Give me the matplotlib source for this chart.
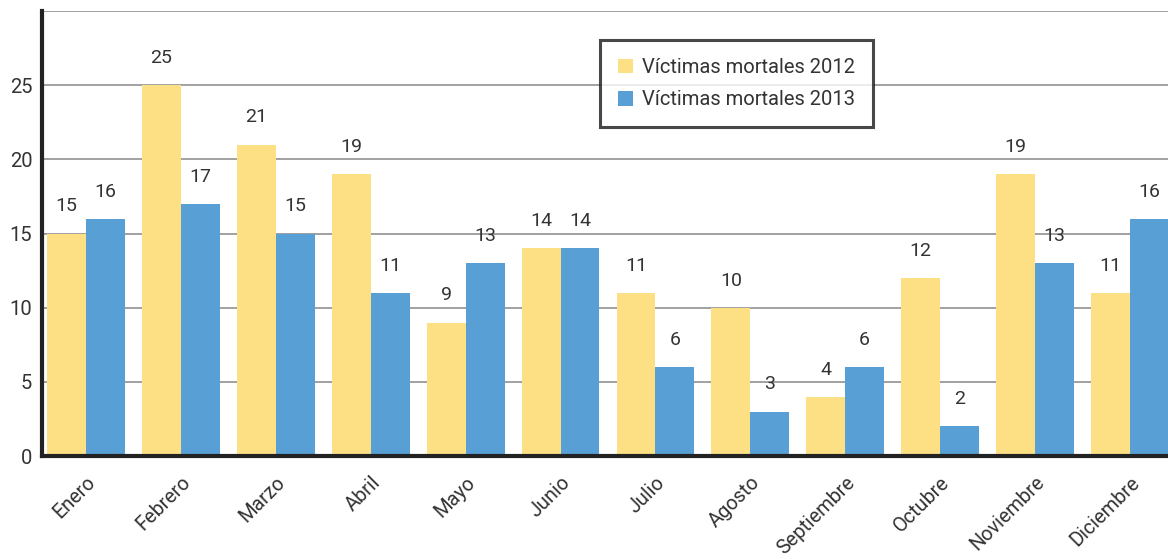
import matplotlib
matplotlib.use("Agg")
import matplotlib.pyplot as plt
import numpy as np

months = ["Enero", "Febrero", "Marzo", "Abril", "Mayo", "Junio", "Julio",
          "Agosto", "Septiembre", "Octubre", "Noviembre", "Diciembre"]
v2012 = [15, 25, 21, 19, 9, 14, 11, 10, 4, 12, 19, 11]
v2013 = [16, 17, 15, 11, 13, 14, 6, 3, 6, 2, 13, 16]
yticks = [0, 5, 10, 15, 20, 25]
series_names = ["Víctimas mortales 2012", "Víctimas mortales 2013"]

plt.rcParams['font.family'] = ['Roboto', 'DejaVu Sans']
txt = '#333333'
c12 = '#FDE083'
c13 = '#579FD4'

W, H = 1168, 559
fig = plt.figure(figsize=(W/100, H/100), dpi=100)
ax = fig.add_axes([42/W, (H-456)/H, (W-42)/W, (456-11)/H])

x = np.arange(len(months))
w = 0.41
b1 = ax.bar(x - w/2, v2012, w, color=c12, label=series_names[0], zorder=3)
b2 = ax.bar(x + w/2, v2013, w, color=c13, label=series_names[1], zorder=3)

for bars, vals in ((b1, v2012), (b2, v2013)):
    for r, v in zip(bars, vals):
        ax.annotate(str(v), (r.get_x() + r.get_width()/2, r.get_height()),
                    xytext=(0, 13), textcoords='offset points',
                    ha='center', va='bottom', fontsize=14, color=txt)

ax.set_xlim(-0.4636, 11.401)
ax.set_ylim(0, 30)
ax.set_yticks(yticks)
ax.set_yticklabels([str(t) for t in yticks], fontsize=14.5, color=txt)
for g in [5, 10, 15, 20, 25, 30]:
    ax.axhline(g, color='#9a9a9a', lw=1.3, zorder=1)

ax.set_xticks(x)
ax.set_xticklabels(months, rotation=45, ha='right', va='top',
                   rotation_mode='anchor', fontsize=14.3, color=txt)

ax.tick_params(axis='both', length=0)
ax.tick_params(axis='y', pad=7)
ax.tick_params(axis='x', pad=12)

for s in ['top', 'right']:
    ax.spines[s].set_visible(False)
for s in ['left', 'bottom']:
    ax.spines[s].set_linewidth(3)
    ax.spines[s].set_color('#222222')
    ax.spines[s].set_zorder(5)

leg = ax.legend(loc='upper left', bbox_to_anchor=(600/W, 1 - 40/H),
                bbox_transform=fig.transFigure, borderaxespad=0,
                fancybox=False, frameon=True, fontsize=14.5,
                handlelength=0.75, handleheight=0.75, handletextpad=0.45,
                borderpad=0.9, labelspacing=0.65)
leg.get_frame().set_edgecolor('#1a1a1a')
leg.get_frame().set_linewidth(2.2)
for t in leg.get_texts():
    t.set_color(txt)

fig.savefig('out.png', dpi=100)
